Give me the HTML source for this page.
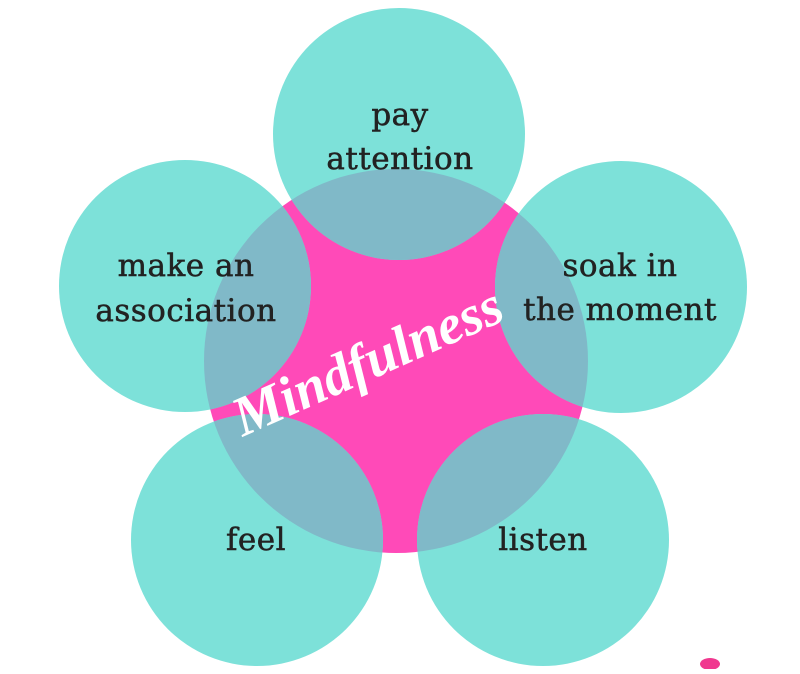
<!DOCTYPE html>
<html><head><style>html,body{margin:0;padding:0;background:#fff}</style></head>
<body>
<svg width="800" height="669" viewBox="0 0 800 669" xmlns="http://www.w3.org/2000/svg">
<defs><clipPath id="c"><circle cx="396" cy="361" r="192"/></clipPath></defs>
<circle cx="396" cy="361" r="192" fill="#ff4ab8"/>
<g fill="#7de1d9">
<circle cx="399" cy="134" r="126"/>
<circle cx="185" cy="286" r="126"/>
<circle cx="621" cy="287" r="126"/>
<circle cx="257" cy="540" r="126"/>
<circle cx="543" cy="540" r="126"/>
</g>
<g fill="#80b9c8" clip-path="url(#c)">
<circle cx="399" cy="134" r="126"/>
<circle cx="185" cy="286" r="126"/>
<circle cx="621" cy="287" r="126"/>
<circle cx="257" cy="540" r="126"/>
<circle cx="543" cy="540" r="126"/>
</g>
<g font-family="DejaVu Serif, serif" font-size="31" fill="#222" stroke="#222" stroke-width="0.5" text-anchor="middle" letter-spacing="0.5">
<text x="400" y="125">pay</text>
<text x="400" y="169">attention</text>
<text x="186" y="276">make an</text>
<text x="186" y="321">association</text>
<text x="620" y="276">soak in</text>
<text x="620" y="320">the moment</text>
<text x="256" y="550">feel</text>
<text x="543" y="550">listen</text>
</g>
<text x="375" y="378" transform="rotate(-24 375 378)" font-family="Liberation Serif, serif" font-style="italic" font-weight="bold" font-size="56" fill="#fff" text-anchor="middle">Mindfulness</text>
<ellipse cx="710" cy="664" rx="10" ry="6" fill="#f0388f"/>
</svg>
</body></html>
